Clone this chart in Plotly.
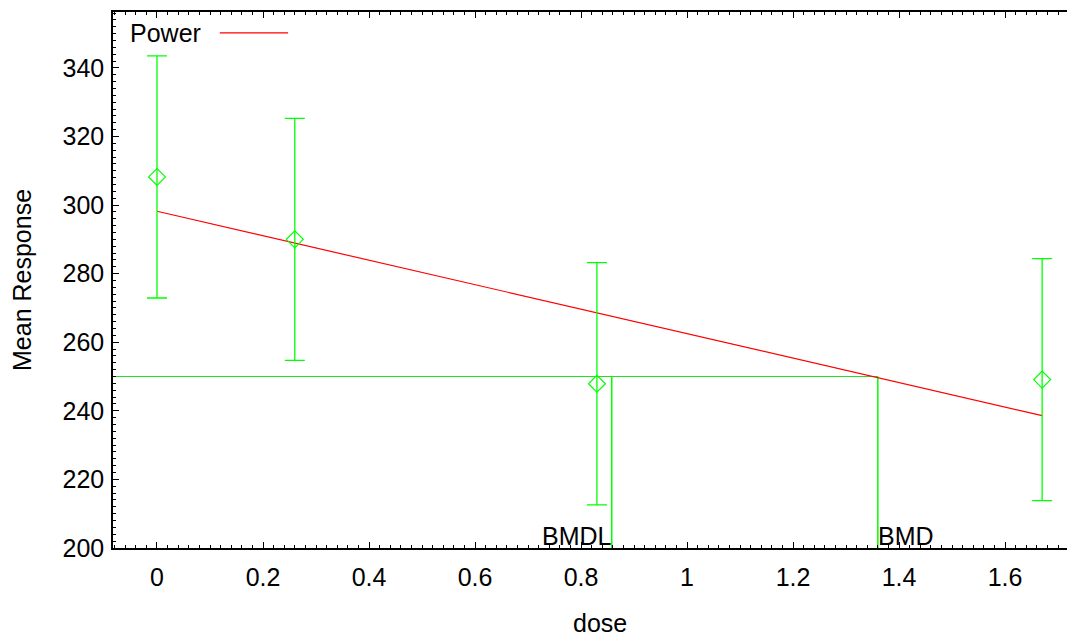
import plotly.graph_objects as go

# Observed data
dose = [0, 0.26, 0.83, 1.67]
mean_response = [308.2, 290.0, 247.9, 249.1]
err = [35.3, 35.3, 35.3, 35.3]

# Fitted power model curve
fit_dose = [0, 1.67]
fit_response = [298.2, 238.6]

# Benchmark values
bmr = 250.0
bmd = 1.36
bmdl = 0.858

x_ticks = [0, 0.2, 0.4, 0.6, 0.8, 1, 1.2, 1.4, 1.6]
x_tick_labels = ["0", "0.2", "0.4", "0.6", "0.8", "1", "1.2", "1.4", "1.6"]
y_ticks = [200, 220, 240, 260, 280, 300, 320, 340]

x_range = [-0.083, 1.732]
y_range = [200, 356.3]

FONT = "Liberation Sans, Arial, sans-serif"
FS = 25
GREEN = "#00ff00"
BMR_GREEN = "#22dd22"

fig = go.Figure()

# BMR horizontal line, BMD & BMDL vertical lines
fig.add_trace(go.Scatter(x=[x_range[0], bmd], y=[bmr, bmr], mode="lines",
                         line=dict(color=BMR_GREEN, width=1), showlegend=False, hoverinfo="skip"))
fig.add_trace(go.Scatter(x=[bmd, bmd], y=[y_range[0], bmr], mode="lines",
                         line=dict(color=GREEN, width=1.5), showlegend=False, hoverinfo="skip"))
fig.add_trace(go.Scatter(x=[bmdl, bmdl], y=[y_range[0], bmr], mode="lines",
                         line=dict(color=GREEN, width=1.5), showlegend=False, hoverinfo="skip"))

# Fitted curve
fig.add_trace(go.Scatter(x=fit_dose, y=fit_response, mode="lines",
                         line=dict(color="#ff0000", width=1.2), name="Power", showlegend=False))

# Observed means with error bars
fig.add_trace(go.Scatter(x=dose, y=mean_response, mode="markers",
                         marker=dict(symbol="diamond-open", size=13, color=GREEN, line=dict(width=1.2, color=GREEN)),
                         error_y=dict(type="data", array=err, visible=True, color=GREEN, thickness=1.3, width=10),
                         showlegend=False))

# Labels for BMD / BMDL
fig.add_annotation(x=bmdl, y=y_range[0], text="BMDL", showarrow=False, xanchor="right", yanchor="bottom",
                   xshift=2, yshift=-4, font=dict(family=FONT, size=FS, color="black"))
fig.add_annotation(x=bmd, y=y_range[0], text="BMD", showarrow=False, xanchor="left", yanchor="bottom",
                   xshift=-2, yshift=-4, font=dict(family=FONT, size=FS, color="black"))

# Legend (text then line)
fig.add_annotation(x=0.0177, y=0.961, xref="paper", yref="paper", text="Power", showarrow=False,
                   xanchor="left", yanchor="middle", xshift=-2, font=dict(family=FONT, size=FS, color="black"))
fig.add_shape(type="line", xref="paper", yref="paper", x0=0.111, x1=0.182, y0=0.961, y1=0.961,
              line=dict(color="#ff0000", width=1.2))

# Axis titles
fig.add_annotation(x=0.5, xref="paper", y=0, yref="paper", text="dose",
                   showarrow=False, xanchor="center", yanchor="middle", yshift=-75, xshift=6,
                   font=dict(family=FONT, size=FS, color="black"))
fig.add_annotation(x=0, xref="paper", y=0.5, yref="paper", text="Mean Response", textangle=-90,
                   showarrow=False, xanchor="center", yanchor="middle", xshift=-91, yshift=0,
                   font=dict(family=FONT, size=FS, color="black"))

fig.update_layout(
    width=1075, height=634,
    margin=dict(l=105, r=8, t=4, b=94, autoexpand=False),
    paper_bgcolor="white", plot_bgcolor="white",
    font=dict(family=FONT, size=FS, color="black"),
    showlegend=False,
)
fig.update_xaxes(
    range=x_range, tickvals=x_ticks, ticktext=x_tick_labels, automargin=False,
    ticks="inside", ticklen=6, tickwidth=1, tickcolor="black",
    minor=dict(dtick=0.02, ticks="inside", ticklen=3, tickwidth=1, tickcolor="black"),
    showline=True, linecolor="black", linewidth=1.5, mirror="ticks",
    showgrid=False, zeroline=False, ticklabelstandoff=6,
)
fig.update_yaxes(
    range=y_range, tickvals=y_ticks, automargin=False,
    ticks="inside", ticklen=6, tickwidth=1, tickcolor="black",
    minor=dict(dtick=2, ticks="inside", ticklen=3, tickwidth=1, tickcolor="black"),
    showline=True, linecolor="black", linewidth=1.5, mirror=False,
    showgrid=False, zeroline=False, ticklabelstandoff=2,
)

fig.write_html("out.html")
